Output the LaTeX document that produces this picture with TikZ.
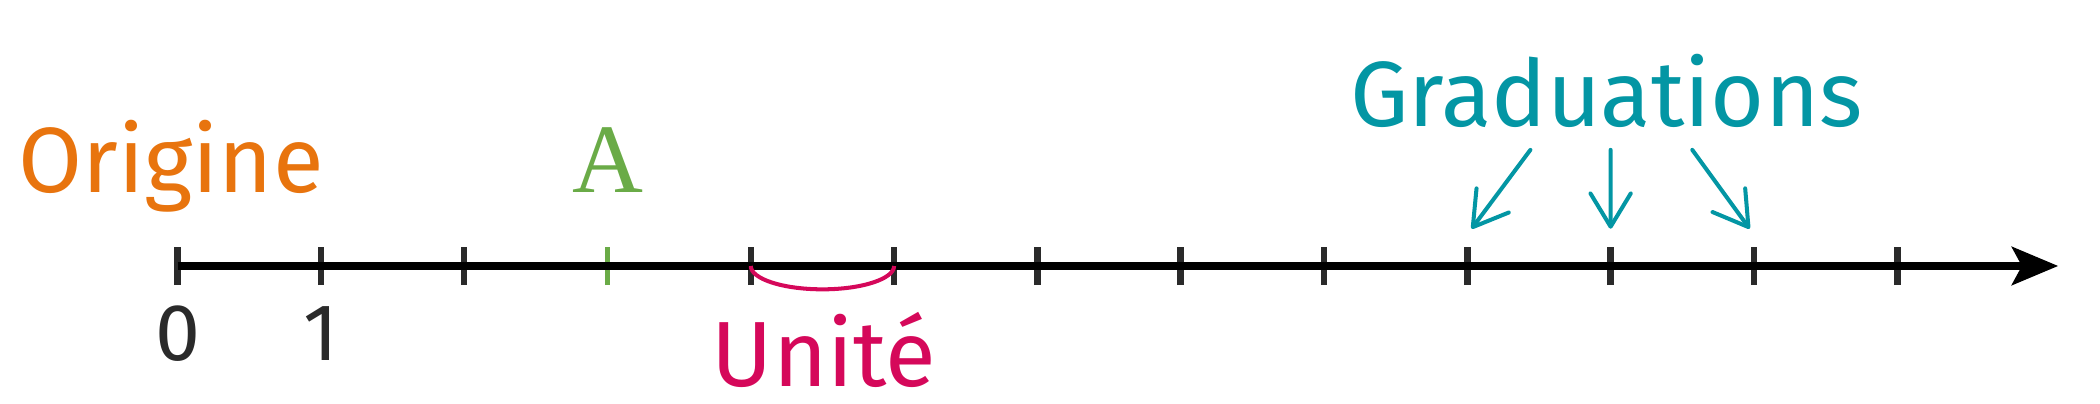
\documentclass[tikz,border=0pt]{standalone}
\usepackage{fontspec}
\setsansfont{Fira Sans}
\newfontfamily\policepoint{Liberation Serif}
\usetikzlibrary{arrows.meta}
\definecolor{orangeorigine}{HTML}{E8740E}
\definecolor{vertpoint}{HTML}{6AAB47}
\definecolor{rougeunite}{HTML}{D5085A}
\definecolor{bleugrad}{HTML}{0396A4}
\definecolor{grisgrad}{HTML}{2A2A2A}
\begin{document}
\begin{tikzpicture}[scale=1,
	axe/.style={draw=black, line width=1.4pt, -{Stealth[length=9.2pt, width=7.6pt, inset=2pt]}},
	graduation/.style={draw=grisgrad, line width=1.3pt},
	gradpoint/.style={draw=vertpoint, line width=1pt},
	texte/.style={font=\sffamily\fontsize{18.4}{22}\selectfont, inner sep=0pt, anchor=base},
	nombre/.style={font=\sffamily\fontsize{16}{19}\selectfont, text=grisgrad, inner sep=0pt, anchor=base},
	fleche/.style={draw=bleugrad, line width=0.8pt, line cap=round, -{Straight Barb[length=6.6pt, width=8pt, line cap=round, round]}},
	unitearc/.style={draw=rougeunite, line width=0.8pt}]
	\useasboundingbox (-1.239, -0.963) rectangle (13.415, 1.856);
	\foreach \i in {0,...,12} {
		\coordinate (node\i) at (\i, 0);
	}
	\coordinate (fin) at (13.123, 0);
	\foreach \i in {0,1,2,4,5,6,7,8,9,10,11,12} {
		\draw[graduation] ([yshift=-0.133cm]node\i) -- ([yshift=0.133cm]node\i);
	}
	\draw[gradpoint] ([yshift=-0.133cm]node3) -- ([yshift=0.133cm]node3);
	\draw[axe] (node0) -- (fin);
	\draw[unitearc] (node4) arc[start angle=180, end angle=360, x radius=0.5, y radius=0.163];
	\node[texte, text=orangeorigine] (label0) at (-0.045, 0.516) {Origine};
	\node[font=\policepoint\fontsize{19.5}{22}\selectfont, text=vertpoint, inner sep=0pt, anchor=base] (label1) at (3, 0.516) {A};
	\node[nombre] (label2) at (0, -0.663) {0};
	\node[nombre] (label3) at (1, -0.663) {1};
	\node[texte, text=rougeunite] (label4) at (4.51, -0.844) {Unité};
	\node[texte, text=bleugrad] (label5) at (9.97, 0.970) {Graduations};
	\draw[fleche] ([xshift=-0.53cm, yshift=-0.16cm]label5.base) -- ([xshift=0.03cm, yshift=0.26cm]node9);
	\draw[fleche] ([xshift=0.03cm, yshift=-0.16cm]label5.base) -- ([yshift=0.26cm]node10);
	\draw[fleche] ([xshift=0.60cm, yshift=-0.16cm]label5.base) -- ([xshift=-0.03cm, yshift=0.26cm]node11);
\end{tikzpicture}
\end{document}
